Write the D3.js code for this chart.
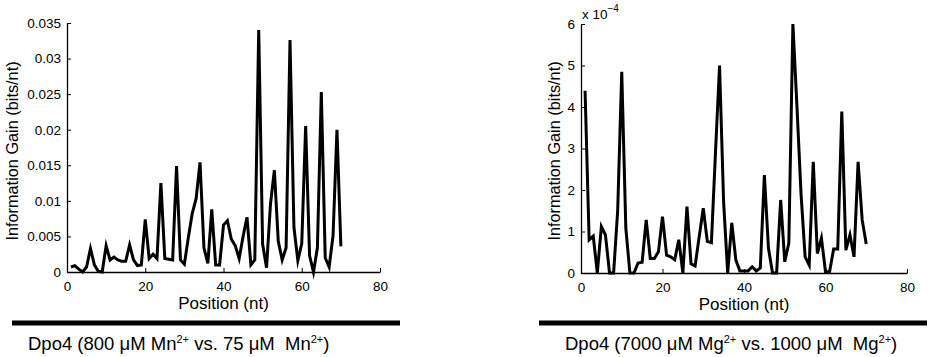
<!DOCTYPE html>
<html><head><meta charset="utf-8">
<script src="https://cdn.jsdelivr.net/npm/d3@7"></script>
<style>body{margin:0;background:#fff}svg{display:block}text{font-family:"Liberation Sans",Arial,Helvetica,sans-serif;fill:#000}</style>
</head><body>
<svg id="c" width="946" height="357"></svg>
<script>
// Data
const positionsMn = d3.range(1, 71);
const gainMn = [
 0.0007,0.0009,0.0004,0.0000,0.0007,0.0033,0.0010,0.0001,0.0000,0.0037,
 0.0017,0.0021,0.0017,0.0015,0.0015,0.0038,0.0017,0.0009,0.0010,0.0074,
 0.0019,0.0025,0.0019,0.0125,0.0019,0.0018,0.0017,0.0149,0.0017,0.0011,
 0.0048,0.0082,0.0103,0.0154,0.0034,0.0012,0.0088,0.0010,0.0010,0.0066,
 0.0072,0.0046,0.0037,0.0019,0.0050,0.0077,0.0010,0.0017,0.0340,0.0039,
 0.0006,0.0095,0.0143,0.0043,0.0017,0.0034,0.0326,0.0063,0.0016,0.0040,
 0.0205,0.0023,0.0000,0.0034,0.0253,0.0020,0.0007,0.0051,0.0200,0.0036];
const positionsMg = d3.range(1, 71);
const gainMg = [ // units of 1e-4
 4.39,0.80,0.89,0.00,1.12,0.92,0.00,0.00,1.50,4.85,
 1.08,0.00,0.00,0.24,0.26,1.28,0.35,0.35,0.51,1.36,
 0.43,0.39,0.32,0.80,0.00,1.60,0.22,0.17,0.87,1.56,
 0.76,0.73,2.90,5.00,1.70,0.00,1.21,0.31,0.05,0.05,
 0.05,0.15,0.05,0.12,2.36,0.60,0.00,0.00,1.76,0.27,
 0.72,6.00,4.00,1.90,0.39,0.19,2.68,0.47,0.84,0.03,
 0.03,0.58,0.58,3.89,0.55,0.92,0.39,2.68,1.28,0.70];
const xTicks = [0,20,40,60,80];
const yTicksMn = [0,0.005,0.01,0.015,0.02,0.025,0.03,0.035];
const yTickLabelsMn = ["0","0.005","0.01","0.015","0.02","0.025","0.03","0.035"];
const yTicksMg = [0,1,2,3,4,5,6];

const svg = d3.select("#c");

function panel(cfg){
  const g = svg.append("g");
  const x = d3.scaleLinear().domain([0,80]).range([cfg.x0, cfg.x1]);
  const y = d3.scaleLinear().domain(cfg.ydom).range([cfg.y0, cfg.y1]);
  const xa = g.append("g").attr("transform",`translate(0,${cfg.y0})`)
    .call(d3.axisBottom(x).tickValues(xTicks).tickSizeInner(-4).tickSizeOuter(0).tickPadding(9));
  const ya = g.append("g").attr("transform",`translate(${cfg.x0},0)`)
    .call(d3.axisLeft(y).tickValues(cfg.yticks).tickFormat((d,i)=>cfg.ylabels[i]).tickSizeInner(-4).tickSizeOuter(0).tickPadding(6));
  [xa,ya].forEach(a=>{
    a.select(".domain").attr("stroke","#000").attr("stroke-width",1.3);
    a.selectAll(".tick line").attr("stroke","#000").attr("stroke-width",1);
    a.selectAll("text").style("font-size","13.5px").attr("fill","#000");
  });
  xa.selectAll("text").attr("dy","0.71em");
  const line = d3.line().x((d,i)=>x(cfg.px[i])).y(d=>y(d));
  g.append("path").datum(cfg.vals).attr("d",line).attr("fill","none")
    .attr("stroke","#000").attr("stroke-width",3).attr("stroke-linejoin","miter").attr("stroke-miterlimit",6);
  g.append("text").attr("x",(cfg.x0+cfg.x1)/2).attr("y",cfg.y0+37).attr("text-anchor","middle")
    .style("font-size","17px").text("Position (nt)");
  g.append("text").attr("transform",`translate(${cfg.ylx},151) rotate(-90)`)
    .attr("text-anchor","middle").style("font-size","16.3px").text("Information Gain (bits/nt)");
  g.append("line").attr("x1",cfg.bx0).attr("x2",cfg.bx1).attr("y1",323).attr("y2",323)
    .attr("stroke","#000").attr("stroke-width",5);
  const t = g.append("text").attr("x",cfg.tx).attr("y",350).style("font-size","18.5px").style("white-space","pre");
  cfg.title.forEach(p=>{
    const s = t.append("tspan").text(p.t);
    if(p.sup) s.attr("dy","-7").style("font-size","11px");
    if(p.after) s.attr("dy","7");
  });
  return {x,y,g};
}

panel({x0:67,x1:380,y0:272,y1:23,ydom:[0,0.035],yticks:yTicksMn,ylabels:yTickLabelsMn,
  px:positionsMn,vals:gainMn,ylx:18,bx0:12,bx1:400,tx:28,
  title:[{t:"Dpo4 (800 \u03bcM Mn"},{t:"2+",sup:true},{t:" vs. 75 \u03bcM  Mn",after:true},{t:"2+",sup:true},{t:")",after:true}]});

const p2 = panel({x0:581,x1:907,y0:273,y1:24,ydom:[0,6],yticks:yTicksMg,ylabels:yTicksMg.map(String),
  px:positionsMg,vals:gainMg,ylx:560,bx0:539,bx1:927,tx:565,
  title:[{t:"Dpo4 (7000 \u03bcM Mg"},{t:"2+",sup:true},{t:" vs. 1000 \u03bcM  Mg",after:true},{t:"2+",sup:true},{t:")",after:true}]});

const ex = p2.g.append("text").attr("x",582).attr("y",19).style("font-size","13.5px");
ex.append("tspan").text("x 10");
ex.append("tspan").attr("dy","-7").style("font-size","10px").text("\u22124");
</script>
</body></html>
